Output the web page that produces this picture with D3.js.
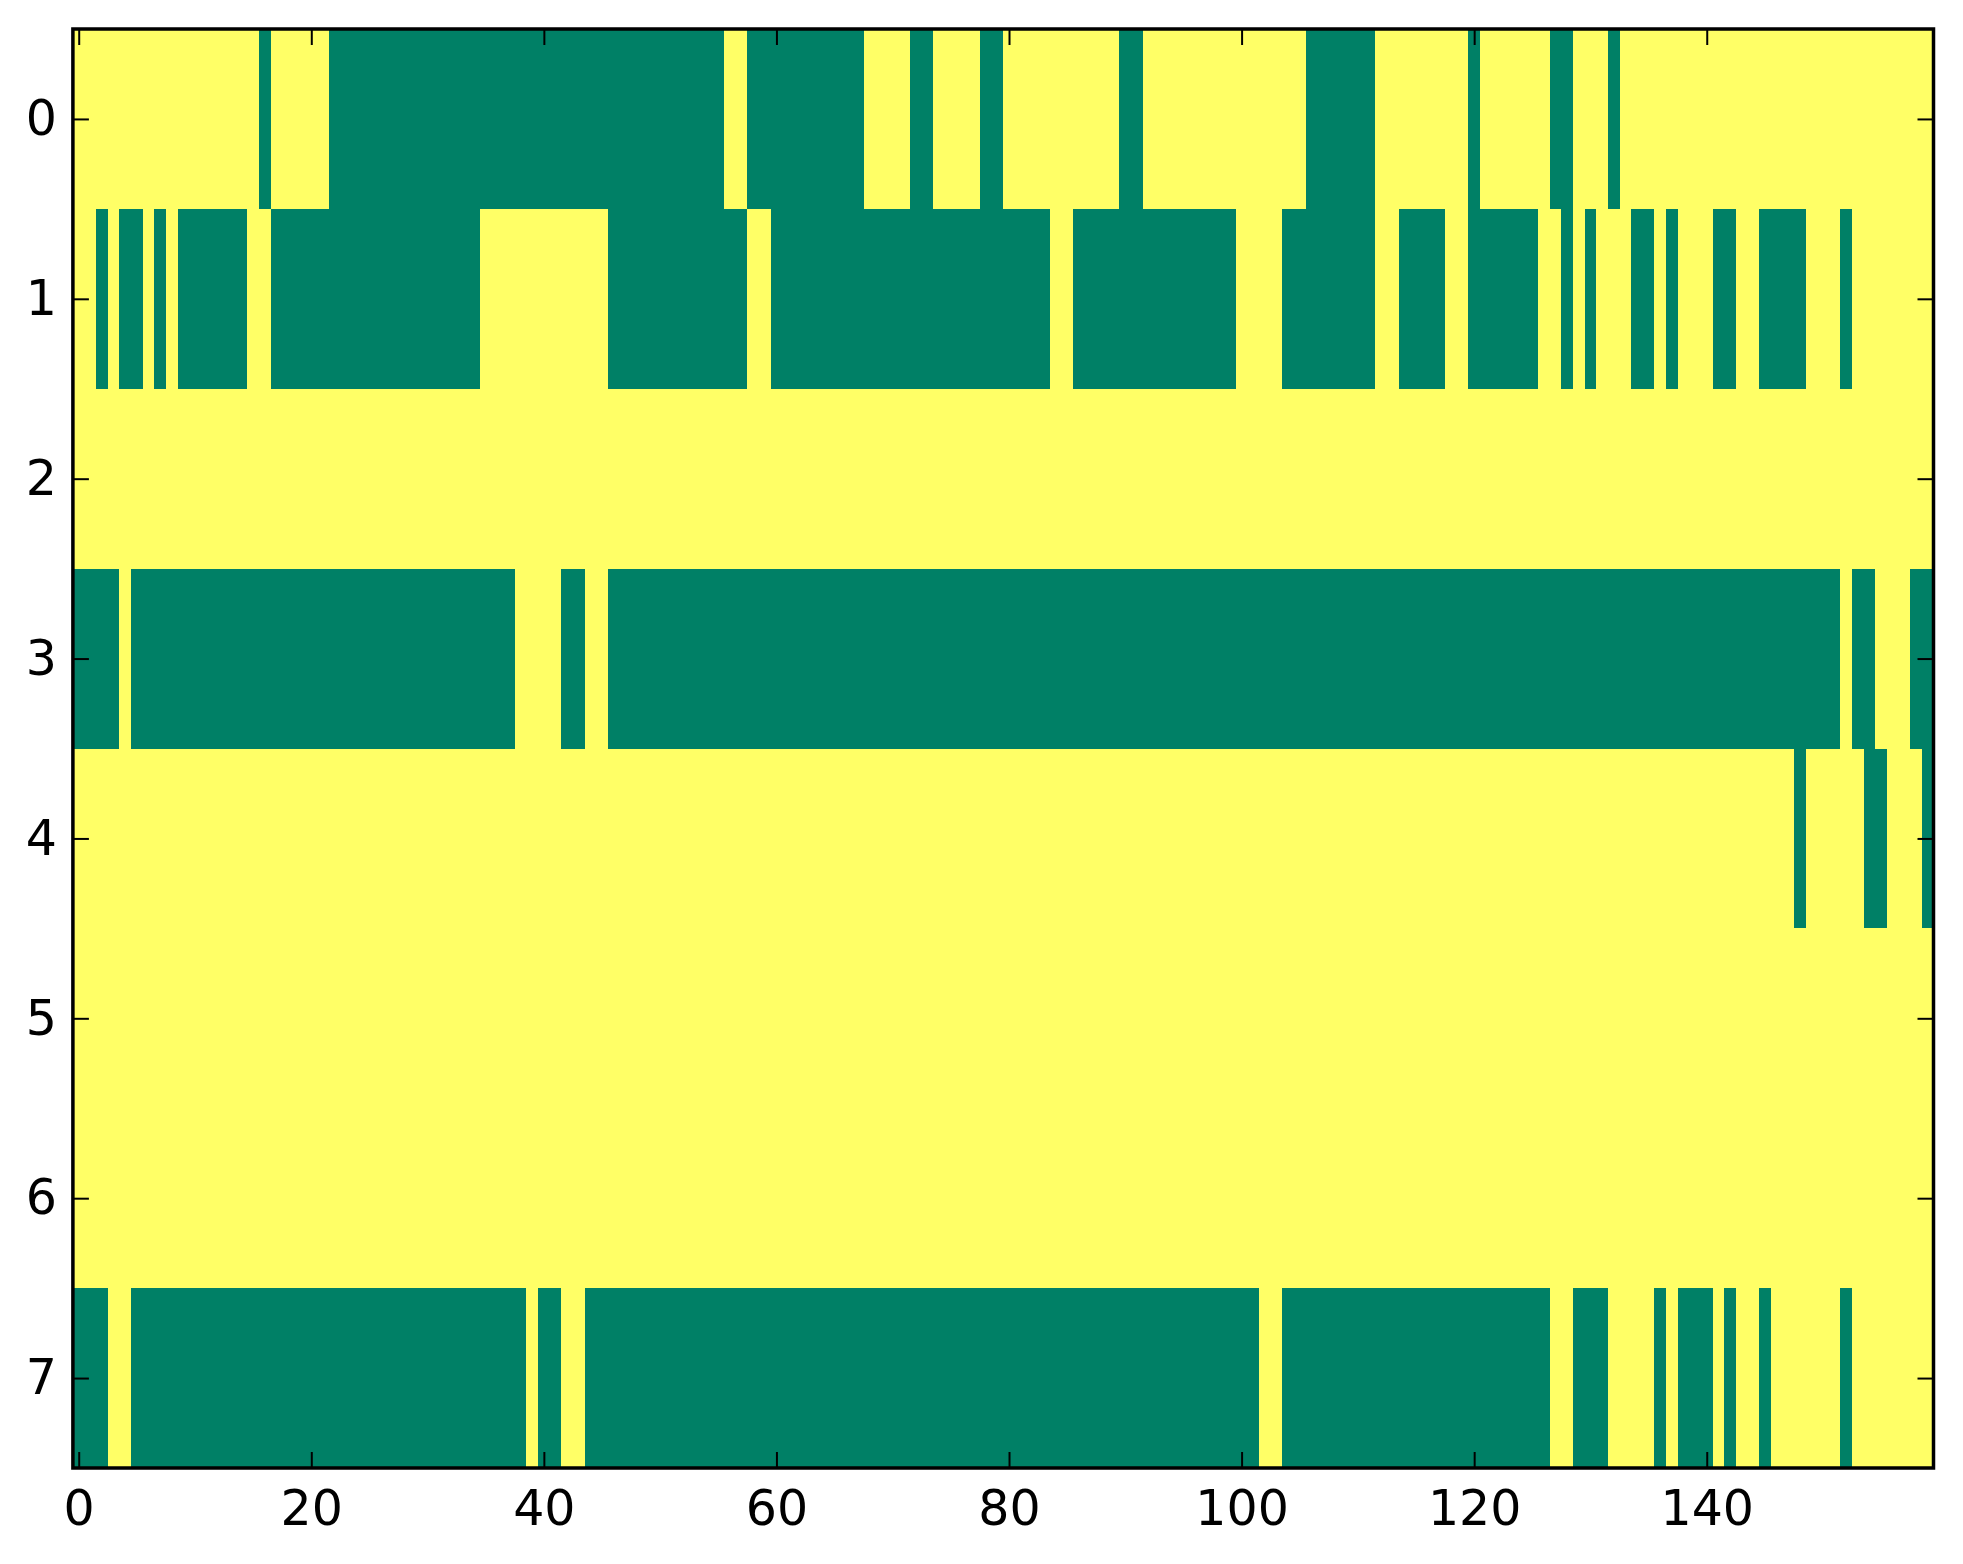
<!DOCTYPE html>
<html>
<head>
<meta charset="utf-8">
<script src="https://cdn.jsdelivr.net/npm/d3@7"></script>
<style>
  html, body { margin: 0; padding: 0; background: #ffffff; }
  svg { display: block; }
  text { font-family: "DejaVu Sans", sans-serif; }
</style>
</head>
<body>
<svg id="chart" width="1963" height="1564"></svg>
<script>
// ---- data (green = 0, yellow = 1); runs of columns with value 0 ----
const nCols = 160;
const rowLabels = [0, 1, 2, 3, 4, 5, 6, 7];
const xTickValues = [0, 20, 40, 60, 80, 100, 120, 140];
const row0Zero = [[16,16],[22,55],[58,67],[72,73],[78,79],[90,91],[106,111],[120,120],[127,128],[132,132]];
const row1Zero = [[2,2],[4,5],[7,7],[9,14],[17,34],[46,57],[60,83],[86,99],[104,111],[114,117],[120,125],[128,128],[130,130],[134,135],[137,137],[141,142],[145,148],[152,152]];
const row2Zero = [];
const row3Zero = [[0,3],[5,37],[42,43],[46,151],[153,154],[158,159]];
const row4Zero = [[148,148],[154,155],[159,159]];
const row5Zero = [];
const row6Zero = [];
const row7Zero = [[0,2],[5,38],[40,41],[44,101],[104,126],[129,131],[136,136],[138,140],[142,142],[145,145],[152,152]];
const rowRuns = [row0Zero, row1Zero, row2Zero, row3Zero, row4Zero, row5Zero, row6Zero, row7Zero];

(function () {
// build matrix values
const cells = [];
rowRuns.forEach((runs, r) => {
  for (let c = 0; c < nCols; c++) {
    const zero = runs.some(([a, b]) => c >= a && c <= b);
    cells.push({ row: r, col: c, value: zero ? 0 : 1 });
  }
});

// ---- layout ----
const mLeft = 72.9, mRight = 1933.5, mTop = 29, mBottom = 1468;
const svg = d3.select("#chart");
const x = d3.scaleLinear().domain([-0.5, nCols - 0.5]).range([mLeft, mRight]);
const y = d3.scaleLinear().domain([-0.5, rowLabels.length - 0.5]).range([mTop, mBottom]);
const color = d3.scaleLinear().domain([0, 1]).range(["#008066", "#ffff66"]);

svg.append("g")
  .selectAll("rect")
  .data(cells)
  .join("rect")
  .attr("x", d => Math.round(x(d.col - 0.5)))
  .attr("width", d => Math.round(x(d.col + 0.5)) - Math.round(x(d.col - 0.5)))
  .attr("y", d => Math.round(y(d.row - 0.5)))
  .attr("height", d => Math.round(y(d.row + 0.5)) - Math.round(y(d.row - 0.5)))
  .attr("fill", d => color(d.value));

// ---- axes: inward ticks on all four sides ----
const tickLen = 16;
function styleAxis(g) {
  g.select(".domain").remove();
  g.selectAll(".tick line").attr("stroke", "#000").attr("stroke-width", 2);
  g.selectAll(".tick text").attr("fill", "#000").attr("font-size", 49)
    .attr("font-family", "DejaVu Sans, sans-serif");
}
svg.append("g").attr("transform", `translate(0,${mBottom})`)
  .call(d3.axisBottom(x).tickValues(xTickValues).tickSizeInner(-tickLen).tickSizeOuter(0).tickPadding(22))
  .call(styleAxis);
svg.append("g").attr("transform", `translate(0,${mTop})`)
  .call(d3.axisTop(x).tickValues(xTickValues).tickSizeInner(-tickLen).tickSizeOuter(0).tickFormat(""))
  .call(styleAxis);
svg.append("g").attr("transform", `translate(${mLeft},0)`)
  .call(d3.axisLeft(y).tickValues(rowLabels).tickSizeInner(-tickLen).tickSizeOuter(0).tickPadding(16))
  .call(styleAxis);
svg.append("g").attr("transform", `translate(${mRight},0)`)
  .call(d3.axisRight(y).tickValues(rowLabels).tickSizeInner(-tickLen).tickSizeOuter(0).tickFormat(""))
  .call(styleAxis);

// frame
svg.append("rect")
  .attr("x", mLeft).attr("y", mTop)
  .attr("width", mRight - mLeft).attr("height", mBottom - mTop)
  .attr("fill", "none").attr("stroke", "#000").attr("stroke-width", 3.5);
})();
</script>
</body>
</html>
